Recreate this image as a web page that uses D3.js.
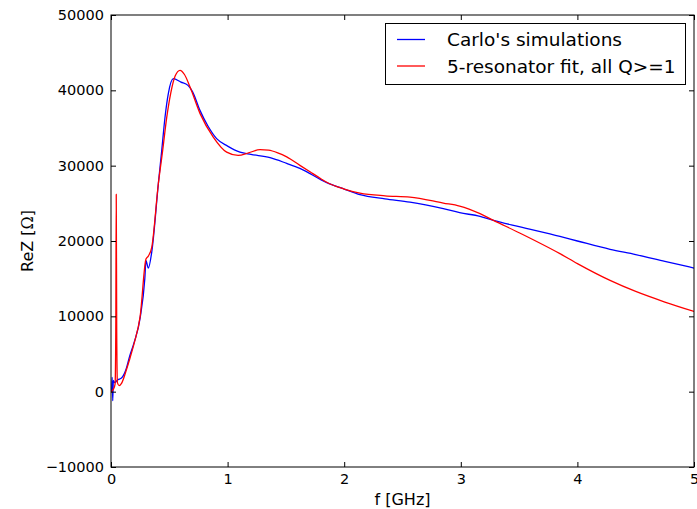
<!DOCTYPE html>
<html lang="en">
<head>
<meta charset="utf-8">
<title>ReZ fit</title>
<script src="https://d3js.org/d3.v7.min.js"></script>
<style>
  body { margin: 0; background: #fff; }
  text { font-family: "DejaVu Sans", sans-serif; }
</style>
</head>
<body>
<script>
// frequencies in GHz, impedance in Ohm
var simF = [0, 0.005, 0.01, 0.015, 0.02, 0.03, 0.06, 0.09, 0.13, 0.16, 0.2, 0.25, 0.29, 0.3, 0.32, 0.35, 0.406, 0.435, 0.463, 0.492, 0.534, 0.6, 0.66, 0.7, 0.763, 0.83, 0.906, 1.0, 1.106, 1.2, 1.364, 1.507, 1.62, 1.85, 2.0, 2.135, 2.35, 2.564, 2.85, 2.99, 3.165, 3.28, 3.5, 3.85, 4.0, 4.28, 4.5, 4.75, 5.0];
var simZ = [0, 0, 1900, -1200, 1500, 1200, 1600, 1800, 3000, 4700, 6600, 9800, 15000, 17400, 16400, 18600, 27600, 32000, 36400, 39600, 41550, 41100, 40660, 39800, 37340, 35300, 33590, 32600, 31800, 31500, 31060, 30300, 29640, 27750, 26900, 26150, 25600, 25170, 24290, 23760, 23270, 22740, 21900, 20600, 20000, 18900, 18200, 17300, 16410];

var fitF = [0, 0.02, 0.035, 0.041, 0.045, 0.049, 0.055, 0.07, 0.09, 0.13, 0.16, 0.2, 0.25, 0.3, 0.32, 0.35, 0.406, 0.443, 0.478, 0.512, 0.55, 0.592, 0.63, 0.678, 0.763, 0.877, 0.992, 1.09, 1.18, 1.278, 1.35, 1.43, 1.507, 1.62, 1.71, 1.8, 1.85, 2.0, 2.135, 2.35, 2.564, 2.85, 2.99, 3.165, 3.28, 3.5, 3.85, 4.0, 4.28, 4.5, 4.75, 5.0];
var fitZ = [0, 300, 1000, 8000, 26200, 8000, 1200, 800, 1100, 2800, 4300, 6500, 10000, 17600, 18000, 19200, 27600, 32000, 36400, 39600, 41900, 42650, 42100, 40440, 36940, 33800, 31800, 31370, 31700, 32120, 32050, 31700, 31170, 30040, 29150, 28270, 27800, 26900, 26360, 26000, 25830, 25040, 24640, 23630, 22740, 21100, 18320, 17000, 14770, 13300, 11900, 10660];

var xTicks = [0, 1, 2, 3, 4, 5];
var yTicks = [-10000, 0, 10000, 20000, 30000, 40000, 50000];
var seriesNames = ["Carlo's simulations", "5-resonator fit, all Q>=1"];
var seriesColors = ["#0000ff", "#ff0000"];

var w = 697, h = 509;
var margin = {top: 15, right: 3, bottom: 42, left: 111};
var innerWidth = w - margin.left - margin.right;
var innerHeight = h - margin.top - margin.bottom;

var x = d3.scaleLinear().domain([0, 5]).range([0, innerWidth]);
var y = d3.scaleLinear().domain([-10000, 50000]).range([innerHeight, 0]);

var svg = d3.select("body").append("svg")
  .attr("width", w).attr("height", h);

var g = svg.append("g")
  .attr("transform", "translate(" + margin.left + "," + margin.top + ")");

g.append("clipPath").attr("id", "clip")
  .append("rect").attr("width", innerWidth).attr("height", innerHeight);

var line = d3.line()
  .x(function(d) { return x(d[0]); })
  .y(function(d) { return y(d[1]); })
  .curve(d3.curveMonotoneX);

var series = [d3.zip(simF, simZ), d3.zip(fitF, fitZ)];
g.selectAll("path.series")
  .data(series)
  .enter().append("path")
  .attr("class", "series")
  .attr("clip-path", "url(#clip)")
  .attr("fill", "none")
  .attr("stroke", function(d, i) { return seriesColors[i]; })
  .attr("stroke-width", 1.3)
  .attr("d", line);

// axes, ticks pointing inward
function styleAxis(sel) {
  sel.select(".domain").remove();
  sel.selectAll(".tick line").attr("stroke", "#000");
  sel.selectAll("text").attr("font-size", "14.5px").attr("fill", "#000")
    .attr("font-family", "DejaVu Sans, sans-serif");
}

g.append("g").attr("transform", "translate(0," + innerHeight + ")")
  .call(d3.axisBottom(x).tickValues(xTicks).tickSize(-5).tickSizeOuter(0).tickPadding(7).tickFormat(d3.format("d")))
  .call(styleAxis);
g.append("g")
  .call(d3.axisTop(x).tickValues(xTicks).tickSize(-5).tickSizeOuter(0).tickFormat(""))
  .call(styleAxis);
g.append("g")
  .call(d3.axisLeft(y).tickValues(yTicks).tickSize(-5).tickSizeOuter(0).tickPadding(7)
    .tickFormat(function(d) { return d < 0 ? "\u2212" + (-d) : String(d); }))
  .call(styleAxis);
g.append("g").attr("transform", "translate(" + innerWidth + ",0)")
  .call(d3.axisRight(y).tickValues(yTicks).tickSize(-5).tickSizeOuter(0).tickFormat(""))
  .call(styleAxis);

g.append("rect")
  .attr("width", innerWidth).attr("height", innerHeight)
  .attr("fill", "none").attr("stroke", "#000").attr("stroke-width", 1);

// axis labels
svg.append("text")
  .attr("x", margin.left + x(2.5)).attr("y", 505)
  .attr("text-anchor", "middle").attr("font-size", "16px")
  .text("f [GHz]");

var yl = svg.append("text")
  .attr("transform", "translate(33,241) rotate(-90)")
  .attr("text-anchor", "middle").attr("font-size", "16px");
yl.append("tspan").text("ReZ [");
yl.append("tspan").attr("font-family", "DejaVu Serif, serif").text("\u03a9");
yl.append("tspan").text("]");

// legend
var lg = svg.append("g");
lg.append("rect")
  .attr("x", 385.5).attr("y", 23.5).attr("width", 300).attr("height", 61)
  .attr("fill", "#fff").attr("stroke", "#000").attr("stroke-width", 1);
seriesNames.forEach(function(name, i) {
  var ly = 39.5 + i * 26.5;
  lg.append("line")
    .attr("x1", 397).attr("x2", 425).attr("y1", ly).attr("y2", ly)
    .attr("stroke", seriesColors[i]).attr("stroke-width", 1.3);
  lg.append("text")
    .attr("x", 447).attr("y", ly + 6.8)
    .attr("font-size", "18.5px")
    .text(name);
});
</script>
</body>
</html>
